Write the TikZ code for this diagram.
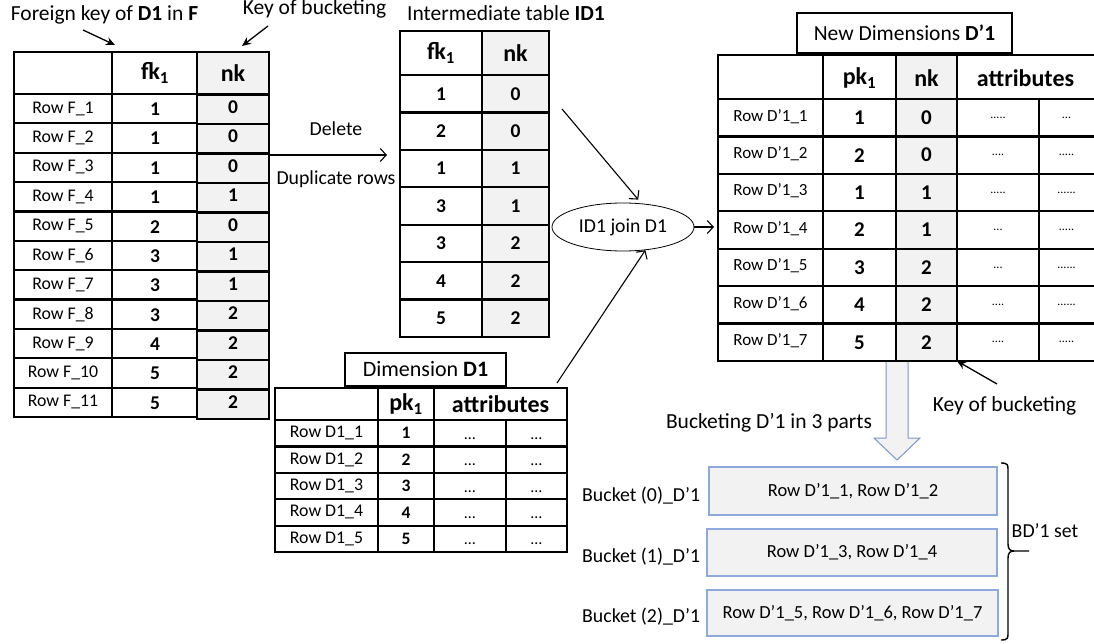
\documentclass[tikz,border=0pt]{standalone}
\usepackage{fontspec}
\setmainfont{Carlito}
\usetikzlibrary{arrows.meta,shapes.geometric}

\definecolor{cellgray}{HTML}{F2F2F2}
\definecolor{edgeblue}{HTML}{8EA9DB}
\definecolor{shaftblue}{HTML}{7896D2}

\newcommand\setfs[1]{\fontsize{#1}{#1}\selectfont}
\newcommand\dotrun[1]{\foreach \j in {1,...,#1}{.}}

\begin{document}
\begin{tikzpicture}[x=1pt,y=-1pt,
  tblline/.style={line width=2.2pt},
  capbox/.style={draw, line width=1.2pt, fill=white, inner sep=0pt},
  note/.style={font=\setfs{21.5}, inner sep=0pt, anchor=base},
  small/.style={font=\setfs{19.8}, inner sep=0pt, anchor=base},
  rowlbl/.style={font=\setfs{17.8}, inner sep=0pt},
  rowlblsm/.style={font=\setfs{17}, inner sep=0pt},
  hdr/.style={font=\bfseries\setfs{24}, inner sep=0pt},
  val/.style={font=\bfseries\setfs{19.5}, inner sep=0pt},
  valbig/.style={font=\bfseries\setfs{21}, inner sep=0pt},
  valsm/.style={font=\bfseries\setfs{17.5}, inner sep=0pt},
  tinydots/.style={font=\setfs{12}, inner sep=0pt},
  ell/.style={font=\setfs{16}, inner sep=0pt, anchor=base},
  link/.style={-{Straight Barb[length=6pt,width=13pt]}, line width=1.1pt},
  pointer/.style={-{Stealth[length=9pt,width=8pt]}, line width=1.3pt},
  bucket/.style={draw=edgeblue, fill=cellgray, line width=1.2pt, inner sep=0pt, font=\setfs{18.5}},
]
\useasboundingbox (0,0) rectangle (1094,644);

% ---------- fact table F ----------
\fill[cellgray] (197,52) rectangle (269,419);
\draw[tblline] (14,52) rectangle (197,417);
\draw[tblline] (112,52) -- (112,417);
\foreach \k in {0,...,10} \draw[tblline] (14,{94+\k*29.36}) -- (197,{94+\k*29.36});
\draw[tblline] (197,52) rectangle (269,419);
\foreach \k in {0,...,10} \draw[tblline] (197,{94.5+\k*29.5}) -- (269,{94.5+\k*29.5});
\node[hdr] (F-h1) at (155,73) {fk\textsubscript{1}};
\node[hdr] (F-h2) at (233,73) {nk};
\foreach \a/\b [count=\i] in {1/0,1/0,1/0,1/1,2/0,3/1,3/1,3/2,4/2,5/2,5/2} {
  \node[rowlbl] (F-r\i) at (63,{94+(\i-0.5)*29.36}) {Row F\_\i};
  \node[val] (F-k\i) at (155,{94+(\i-0.5)*29.36+0.5}) {\a};
  \node[val] (F-n\i) at (233,{94.5+(\i-0.5)*29.5-2.5}) {\b};
}
\coordinate (F-out) at (269,155);

% notes above F
\node[note] (fk-note) at (104.5,20.5) {Foreign key of \textbf{D1} in \textbf{F}};
\node[note] (key-note) at (314.5,15) {Key of bucketing};
\coordinate (fk-from) at (83,30);
\coordinate (fk-to) at (115,45);
\coordinate (key-from) at (268,26);
\coordinate (key-to) at (242,46);
\draw[pointer] (fk-from) -- (fk-to);
\draw[pointer] (key-from) -- (key-to);

% ---------- intermediate table ID1 ----------
\node[note, anchor=base west] (id1-title) at (407,20.5) {Intermediate table \textbf{ID1}};
\fill[cellgray] (482,31) rectangle (549,337);
\draw[tblline] (400,31) rectangle (549,337);
\draw[tblline] (482,31) -- (482,337);
\foreach \k in {0,...,6} \draw[tblline] (400,{75+\k*37.43}) -- (549,{75+\k*37.43});
\node[hdr] (I-h1) at (441,53) {fk\textsubscript{1}};
\node[hdr] (I-h2) at (515.5,53) {nk};
\foreach \a/\b [count=\i] in {1/0,2/0,1/1,3/1,3/2,4/2,5/2} {
  \node[val] (I-k\i) at (441,{75+(\i-0.5)*37.43}) {\a};
  \node[val] (I-n\i) at (515.5,{75+(\i-0.5)*37.43}) {\b};
}
\coordinate (I-in) at (387,155);
\coordinate (I-out) at (562,109);

% F -> ID1
\draw[link] (F-out) -- (I-in);
\node[small] (del) at (336,136) {Delete};
\node[small] (dup) at (336,185) {Duplicate rows};

% ---------- dimension D1 ----------
\node[capbox, minimum width=161, minimum height=33, font=\setfs{22}] (D1-cap) at (425.5,369.5) {Dimension \textbf{D1}};
\draw[tblline] (275,388) rectangle (567,552);
\draw[tblline] (378,388) -- (378,552);
\draw[tblline] (434,388) -- (434,552);
\draw[tblline] (506,420) -- (506,552);
\foreach \k in {0,...,4} \draw[tblline] (275,{420+\k*26.4}) -- (567,{420+\k*26.4});
\node[hdr] (D-h1) at (406,404) {pk\textsubscript{1}};
\node[hdr] (D-h2) at (500.5,404) {attributes};
\foreach \i in {1,...,5} {
  \node[rowlbl] (D-r\i) at (326.5,{420+(\i-0.5)*26.4}) {Row D1\_\i};
  \node[valsm] (D-k\i) at (406,{420+(\i-0.5)*26.4}) {\i};
  \node[ell] (D-a\i) at (470,{420+(\i-0.5)*26.4+6}) {…};
  \node[ell] (D-b\i) at (536.5,{420+(\i-0.5)*26.4+6}) {…};
}
\coordinate (D-out) at (557,383);

% ---------- join ----------
\node[draw, ellipse, line width=0.8pt, minimum width=142, minimum height=48, inner sep=0pt, font=\setfs{19.7}] (join) at (623,227) {ID1 join D1};
\draw[link, shorten >=5pt] (I-out) -- (join.52);
\draw[link] (D-out) -- (join.-46);

% ---------- new dimension D'1 ----------
\draw[line width=1pt, draw=shaftblue, fill=cellgray] (886,361) -- (908,361) -- (908,438) -- (920,438) -- (897,460) -- (874,438) -- (886,438) -- cycle;
\node[capbox, minimum width=215, minimum height=40, font=\setfs{21.5}] (N-cap) at (904.5,33) {New Dimensions \textbf{D’1}};
\fill[cellgray] (896,55) rectangle (957,361);
\draw[tblline] (718,55) rectangle (1097,361);
\foreach \x in {823,896,957} \draw[tblline] (\x,55) -- (\x,361);
\draw[tblline] (1039,99) -- (1039,361);
\foreach \k in {0,...,6} \draw[tblline] (718,{99+\k*37.43}) -- (1097,{99+\k*37.43});
\node[hdr] (N-h1) at (859.5,78) {pk\textsubscript{1}};
\node[hdr] (N-h2) at (926.5,78) {nk};
\node[hdr] (N-h3) at (1025.5,78) {attributes};
\foreach \a/\b/\c/\d [count=\i] in {1/0/5/3,2/0/4/5,1/1/5/6,2/1/3/5,3/2/3/6,4/2/4/6,5/2/4/5} {
  \node[rowlblsm] (N-r\i) at (770.5,{99+(\i-0.5)*37.43-1.5}) {Row D’1\_\i};
  \node[valbig] (N-k\i) at (859.5,{99+(\i-0.5)*37.43}) {\a};
  \node[valbig] (N-n\i) at (926.5,{99+(\i-0.5)*37.43}) {\b};
  \node[tinydots] (N-a\i) at (998,{99+(\i-0.5)*37.43}) {\dotrun{\c}};
  \node[tinydots] (N-b\i) at (1066.5,{99+(\i-0.5)*37.43}) {\dotrun{\d}};
}
\coordinate (N-in) at (718,227);
\coordinate (N-key) at (957,361);
\draw[link, shorten >=4pt] (join.east) -- (N-in);

% key of bucketing pointer
\node[note] (key2-note) at (1004.5,411.7) {Key of bucketing};
\coordinate (key2-from) at (997,384);
\draw[pointer] (key2-from) -- (N-key);

% ---------- buckets ----------
\node[note] (split-note) at (769,428) {Bucketing D’1 in 3 parts};
\node[bucket, minimum width=288, minimum height=48] (b0) at (853,491) {Row D’1\_1, Row D’1\_2};
\node[bucket, minimum width=290, minimum height=47] (b1) at (852,552.5) {Row D’1\_3, Row D’1\_4};
\node[bucket, minimum width=291, minimum height=46] (b2) at (852.5,613) {Row D’1\_5, Row D’1\_6, Row D’1\_7};
\node[small, anchor=base west] (b0-lbl) at (582,501.7) {Bucket (0)\_D’1};
\node[small, anchor=base west] (b1-lbl) at (582,562) {Bucket (1)\_D’1};
\node[small, anchor=base west] (b2-lbl) at (582,622.3) {Bucket (2)\_D’1};

% brace grouping the buckets
\draw[line width=1.4pt] (1001,463) .. controls (1008,463) and (1008,465) .. (1008,470)
  -- (1008,544) .. controls (1008,549) and (1010,551) .. (1014,551) -- (1029,551);
\draw[line width=1.4pt] (1014,551) .. controls (1010,551) and (1008,553) .. (1008,558)
  -- (1008,633) .. controls (1008,638) and (1008,640) .. (1001,640);
\node[small] (set-lbl) at (1045,537.7) {BD’1 set};
\end{tikzpicture}
\end{document}
